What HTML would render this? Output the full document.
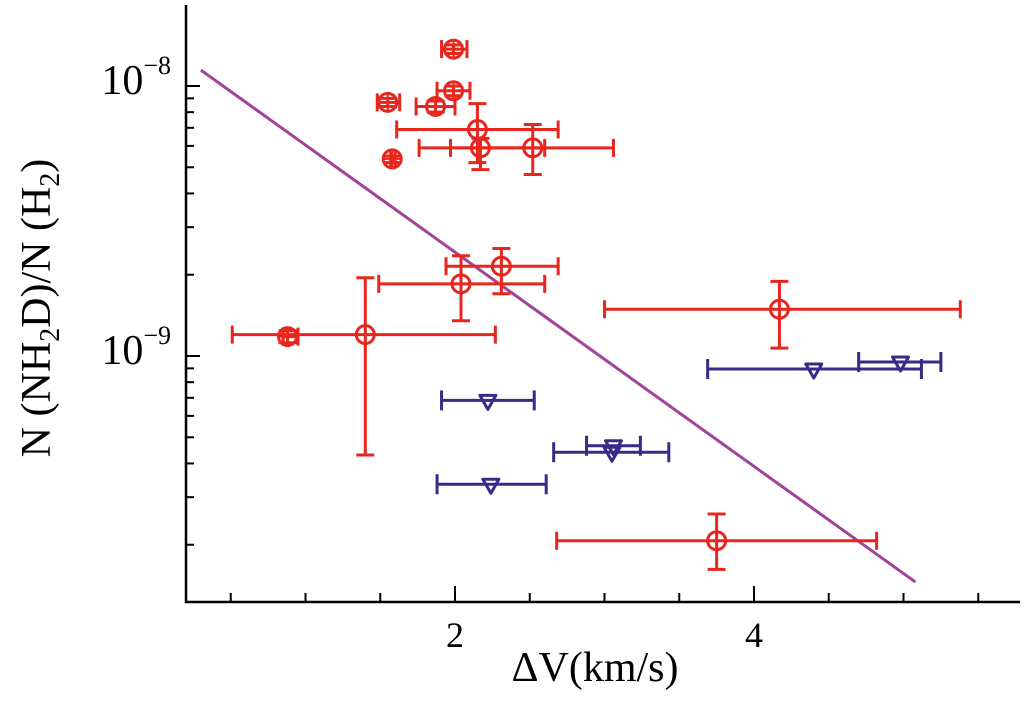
<!DOCTYPE html>
<html><head><meta charset="utf-8"><style>
body{margin:0;background:#fff;width:1026px;height:702px;overflow:hidden}
svg text{font-family:"Liberation Serif",serif;fill:#000}
</style></head><body>
<svg id="chart" width="1026" height="702" xmlns="http://www.w3.org/2000/svg">
<g id="axes"></g>
<g id="marks"></g>
<text x="595" y="681" font-size="42" text-anchor="middle">ΔV(km/s)</text>
<text transform="translate(50,308) rotate(-90)" font-size="42" text-anchor="middle">N (NH<tspan font-size="28" dy="9">2</tspan><tspan dy="-9">D)/N (H</tspan><tspan font-size="28" dy="9">2</tspan><tspan dy="-9">)</tspan></text>
</svg>
<script>
// red detections
const redX=[1.99,1.55,1.99,1.87,2.15,2.17,2.52,1.58,2.31,2.04,4.17,0.88,1.40,3.75];
const redXlo=[1.91,1.48,1.88,1.74,1.61,1.76,1.97,1.57,1.94,1.49,3.00,0.85,0.51,2.68];
const redXhi=[2.08,1.63,2.10,2.00,2.69,2.60,3.06,1.60,2.69,2.60,5.38,0.95,2.27,4.82];
const redY=[1.37e-8,8.7e-9,9.6e-9,8.4e-9,6.9e-9,5.9e-9,5.9e-9,5.37e-9,2.15e-9,1.85e-9,1.49e-9,1.18e-9,1.2e-9,2.07e-10];
const redYlo=[1.32e-8,8.4e-9,9.2e-9,8.0e-9,5.2e-9,4.9e-9,4.7e-9,5.2e-9,1.7e-9,1.35e-9,1.07e-9,1.12e-9,4.3e-10,1.62e-10];
const redYhi=[1.42e-8,9.0e-9,1.0e-8,8.8e-9,8.6e-9,6.4e-9,7.2e-9,5.5e-9,2.5e-9,2.35e-9,1.89e-9,1.24e-9,1.95e-9,2.6e-10];
// blue upper limits
const blueX=[2.22,3.06,3.05,2.24,4.40,4.98];
const blueXlo=[1.91,2.88,2.66,1.88,3.69,4.70];
const blueXhi=[2.53,3.24,3.43,2.61,5.12,5.25];
const blueY=[6.85e-10,4.65e-10,4.4e-10,3.35e-10,8.95e-10,9.5e-10];
// fit line log10(y)=a+b*x
const fitA=[-7.822];
const fitB=[-0.3967];
const fitRange=[0.30,5.08];
const xTicks=[2,4];
const yTicks=[-8,-9];

const X0=186,X1=1020,Y0=5,Y1=602;
const xs=v=>455+(v-2)*149.5;
const ys=v=>86-(Math.log10(v)+8)*270;
const ysl=l=>86-(l+8)*270;
const NS="http://www.w3.org/2000/svg";
function mk(p,t,a){const e=document.createElementNS(NS,t);for(const k in a)e.setAttribute(k,a[k]);p.appendChild(e);return e;}
const ax=document.getElementById('axes'),mg=document.getElementById('marks');
const axL=mk(ax,'path',{d:`M${X0},${Y0}V${Y1}H${X1}`,fill:'none',stroke:'#000','stroke-width':2.5});


for(let v=0.5;v<=5.5;v+=0.5){const x=xs(v);const major=xTicks.includes(v);
 const t=mk(ax,'line',{x1:x,x2:x,y1:Y1,y2:Y1-(major?16:9),stroke:'#000','stroke-width':2});
 
 }
xTicks.forEach(v=>{const t=mk(ax,'text',{x:xs(v),y:647,'font-size':36,'text-anchor':'middle'});t.textContent=v;
 
 });
for(let d=-10;d<=-8;d++)for(let m=1;m<10;m++){const v=m*Math.pow(10,d);const y=ys(v);if(y<Y0||y>Y1)continue;
 const t=mk(ax,'line',{x1:X0,x2:X0+(m==1?14:8),y1:y,y2:y,stroke:'#000','stroke-width':2});
 
 }
yTicks.forEach(l=>{const t=mk(ax,'text',{x:171,y:ysl(l)+8,'font-size':42,'text-anchor':'end'});
 t.innerHTML='10<tspan font-size="26" dy="-20">−'+(-l)+'</tspan>';
 
 });
// fit line
const fl=mk(mg,'line',{x1:xs(fitRange[0]),y1:ysl(fitA[0]+fitB[0]*fitRange[0]),x2:xs(fitRange[1]),y2:ysl(fitA[0]+fitB[0]*fitRange[1]),stroke:'#a0449a','stroke-width':3});


const RED='#e8261e',BLUE='#3a2a88';
redX.forEach((v,i)=>{const g=mk(mg,'g',{stroke:RED,'stroke-width':3,fill:'none'});
 
 
 const x=xs(v),y=ys(redY[i]),xl=xs(redXlo[i]),xh=xs(redXhi[i]),yl=ys(redYlo[i]),yh=ys(redYhi[i]);
 mk(g,'path',{d:`M${xl},${y}H${xh}M${xl},${y-9}v18M${xh},${y-9}v18M${x},${yl}V${yh}M${x-9},${yl}h18M${x-9},${yh}h18`});
 mk(g,'circle',{cx:x,cy:y,r:9});
 mk(g,'path',{d:`M${x-9},${y}h18M${x},${y-9}v18`,'stroke-width':2});});
blueX.forEach((v,i)=>{const g=mk(mg,'g',{stroke:BLUE,'stroke-width':3,fill:'none'});
 
 
 const x=xs(v),y=ys(blueY[i]),xl=xs(blueXlo[i]),xh=xs(blueXhi[i]);
 mk(g,'path',{d:`M${xl},${y}H${xh}M${xl},${y-10}v20M${xh},${y-10}v20`});
 mk(g,'path',{d:`M${x-8},${y-5}H${x+8}L${x},${y+9}Z`,'stroke-linejoin':'round'});});
</script>
</body></html>
